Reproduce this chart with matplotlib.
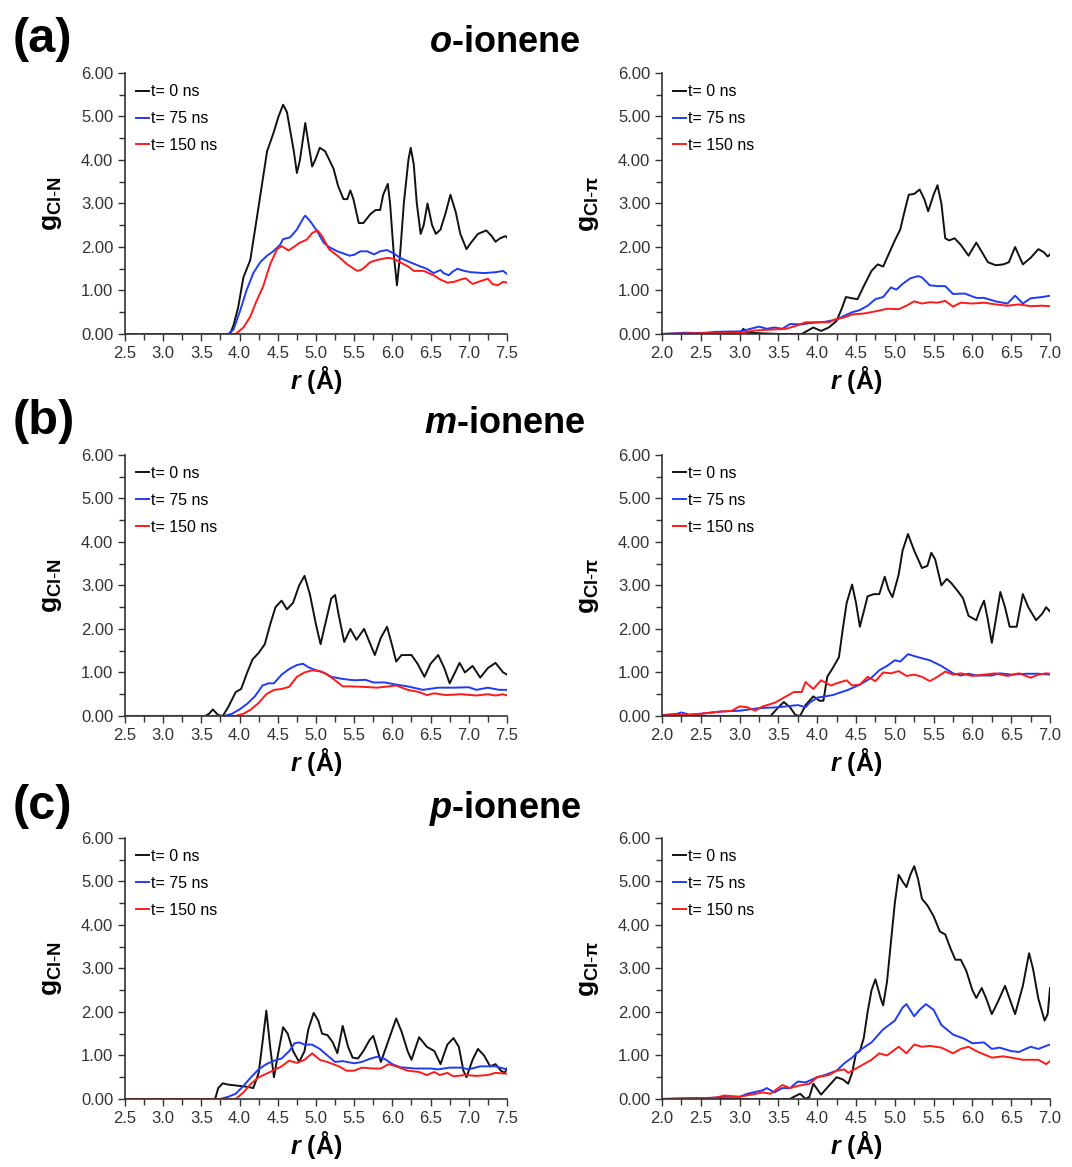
import matplotlib
matplotlib.use('Agg')
import matplotlib.pyplot as plt
from matplotlib.ticker import MultipleLocator, FormatStrFormatter

plt.rcParams.update({
    'font.family': ['Liberation Sans', 'DejaVu Sans'],
    'mathtext.fontset': 'custom',
    'mathtext.rm': 'Liberation Sans',
    'mathtext.it': 'Liberation Sans:italic:bold',
    'mathtext.bf': 'Liberation Sans:bold',
})

LEGEND_LABELS = ['t= 0 ns', 't= 75 ns', 't= 150 ns']
LINE_COLORS = ['#111111', '#1f3cf0', '#ff1a1a']
PANEL_LETTERS = ['(a)', '(b)', '(c)']
PANEL_TITLES = [r'$\mathit{o}$-ionene', r'$\mathit{m}$-ionene', r'$\mathit{p}$-ionene']
YLABEL_N = r'$\mathbf{g}_{\mathbf{Cl}\text{-}\mathbf{N}}$'
YLABEL_PI = r'$\mathbf{g}_{\mathbf{Cl}\text{-}\mathbf{π}}$'

# (r, g) pairs
# o-ionene, Cl-N
oN_t0 = [(2.5, 0), (3.85, 0), (3.88, 0.02), (3.92, 0.2), (3.98, 0.6), (4.05, 1.3), (4.14, 1.7), (4.22, 2.6),
         (4.29, 3.4), (4.36, 4.2), (4.44, 4.6), (4.51, 5.0), (4.57, 5.27), (4.62, 5.1), (4.66, 4.7), (4.71, 4.2),
         (4.75, 3.7), (4.79, 4.0), (4.86, 4.85), (4.9, 4.4), (4.95, 3.85), (4.99, 4.0), (5.05, 4.28), (5.12, 4.2),
         (5.23, 3.8), (5.29, 3.4), (5.36, 3.1), (5.41, 3.1), (5.45, 3.3), (5.49, 3.1), (5.56, 2.55), (5.62, 2.55),
         (5.71, 2.75), (5.78, 2.85), (5.84, 2.85), (5.88, 3.2), (5.94, 3.45), (5.97, 3.0), (6.02, 1.8), (6.06, 1.12),
         (6.1, 1.8), (6.15, 3.0), (6.21, 4.0), (6.24, 4.28), (6.28, 3.9), (6.32, 3.0), (6.37, 2.3), (6.41, 2.5),
         (6.46, 3.0), (6.52, 2.5), (6.57, 2.3), (6.63, 2.4), (6.7, 2.8), (6.76, 3.2), (6.83, 2.8), (6.89, 2.3),
         (6.97, 1.95), (7.03, 2.1), (7.12, 2.3), (7.23, 2.38), (7.3, 2.25), (7.35, 2.12), (7.41, 2.2), (7.48, 2.25),
         (7.5, 2.22)]
oN_t75 = [(2.5, 0), (3.85, 0), (3.92, 0.1), (4.01, 0.55), (4.09, 1.0), (4.18, 1.4), (4.27, 1.65), (4.36, 1.8),
          (4.44, 1.9), (4.53, 2.05), (4.57, 2.18), (4.66, 2.22), (4.75, 2.4), (4.84, 2.68), (4.86, 2.72), (4.93, 2.58),
          (5.02, 2.35), (5.1, 2.1), (5.17, 2.0), (5.28, 1.9), (5.44, 1.8), (5.5, 1.82), (5.58, 1.9), (5.67, 1.9),
          (5.76, 1.83), (5.84, 1.9), (5.93, 1.93), (6.02, 1.85), (6.1, 1.75), (6.23, 1.65), (6.37, 1.55), (6.45, 1.5),
          (6.54, 1.4), (6.63, 1.47), (6.67, 1.4), (6.74, 1.35), (6.78, 1.42), (6.85, 1.5), (6.94, 1.45), (7.03, 1.42),
          (7.2, 1.4), (7.35, 1.42), (7.45, 1.45), (7.5, 1.38)]
oN_t150 = [(2.5, 0), (3.95, 0), (4.05, 0.15), (4.14, 0.4), (4.22, 0.75), (4.31, 1.1), (4.4, 1.6), (4.49, 1.95),
           (4.55, 2.02), (4.64, 1.92), (4.71, 2.0), (4.79, 2.1), (4.88, 2.17), (4.95, 2.32), (5.02, 2.38), (5.08, 2.25),
           (5.17, 1.95), (5.28, 1.8), (5.41, 1.6), (5.54, 1.45), (5.6, 1.48), (5.71, 1.65), (5.8, 1.7), (5.93, 1.75),
           (6.02, 1.73), (6.1, 1.65), (6.21, 1.55), (6.28, 1.45), (6.41, 1.45), (6.54, 1.35), (6.63, 1.25),
           (6.72, 1.18), (6.81, 1.2), (6.89, 1.25), (6.96, 1.28), (7.05, 1.15), (7.16, 1.22), (7.25, 1.27),
           (7.31, 1.15), (7.38, 1.12), (7.45, 1.2), (7.5, 1.18)]

# o-ionene, Cl-pi
oPi_t0 = [(2.0, 0), (3.0, 0.02), (3.05, 0.12), (3.1, 0.03), (3.5, 0), (3.8, 0), (3.85, 0.05), (3.95, 0.15),
          (4.05, 0.07), (4.15, 0.15), (4.25, 0.3), (4.32, 0.6), (4.37, 0.85), (4.45, 0.82), (4.52, 0.8), (4.6, 1.1),
          (4.7, 1.45), (4.78, 1.6), (4.85, 1.55), (4.9, 1.75), (5.0, 2.15), (5.07, 2.4), (5.13, 2.85), (5.18, 3.2),
          (5.25, 3.22), (5.32, 3.32), (5.38, 3.1), (5.43, 2.82), (5.5, 3.2), (5.55, 3.42), (5.6, 3.0), (5.65, 2.2),
          (5.7, 2.15), (5.77, 2.2), (5.85, 2.05), (5.95, 1.8), (6.05, 2.1), (6.1, 1.95), (6.2, 1.65), (6.3, 1.58),
          (6.4, 1.6), (6.47, 1.65), (6.55, 2.0), (6.6, 1.8), (6.65, 1.6), (6.75, 1.75), (6.85, 1.95), (6.92, 1.88),
          (6.97, 1.78), (7.0, 1.83)]
oPi_t75 = [(2.0, 0), (2.3, 0.03), (2.5, 0.02), (2.7, 0.05), (3.0, 0.06), (3.1, 0.1), (3.25, 0.17), (3.35, 0.12),
           (3.45, 0.15), (3.55, 0.12), (3.65, 0.23), (3.8, 0.22), (3.9, 0.25), (4.1, 0.28), (4.25, 0.33), (4.35, 0.42),
           (4.45, 0.5), (4.55, 0.55), (4.65, 0.65), (4.75, 0.8), (4.85, 0.85), (4.95, 1.07), (5.02, 1.02), (5.1, 1.15),
           (5.2, 1.28), (5.3, 1.33), (5.35, 1.3), (5.45, 1.12), (5.55, 1.1), (5.65, 1.1), (5.75, 0.92), (5.9, 0.93),
           (6.05, 0.83), (6.15, 0.83), (6.3, 0.75), (6.45, 0.7), (6.55, 0.88), (6.65, 0.7), (6.75, 0.82), (6.9, 0.85),
           (7.0, 0.88)]
oPi_t150 = [(2.0, 0), (2.5, 0.02), (2.9, 0.02), (3.05, 0.04), (3.2, 0.08), (3.4, 0.1), (3.6, 0.12), (3.75, 0.2),
            (3.85, 0.27), (4.0, 0.27), (4.15, 0.27), (4.25, 0.35), (4.35, 0.38), (4.45, 0.45), (4.6, 0.47),
            (4.75, 0.52), (4.9, 0.58), (5.05, 0.57), (5.15, 0.65), (5.25, 0.75), (5.35, 0.7), (5.45, 0.73),
            (5.55, 0.72), (5.65, 0.76), (5.75, 0.63), (5.85, 0.72), (6.0, 0.7), (6.15, 0.72), (6.3, 0.68),
            (6.45, 0.65), (6.6, 0.68), (6.75, 0.64), (6.9, 0.65), (7.0, 0.64)]

# m-ionene, Cl-N
mN_t0 = [(2.5, 0), (3.55, 0), (3.6, 0.05), (3.65, 0.15), (3.72, 0.02), (3.78, 0), (3.85, 0.2), (3.95, 0.55),
         (4.02, 0.62), (4.1, 1.0), (4.17, 1.3), (4.25, 1.45), (4.33, 1.65), (4.4, 2.1), (4.47, 2.5), (4.55, 2.65),
         (4.62, 2.45), (4.7, 2.6), (4.78, 3.0), (4.85, 3.22), (4.92, 2.8), (5.0, 2.1), (5.06, 1.65), (5.12, 2.1),
         (5.2, 2.7), (5.25, 2.78), (5.3, 2.3), (5.37, 1.7), (5.45, 2.0), (5.53, 1.75), (5.63, 2.0), (5.7, 1.7),
         (5.77, 1.4), (5.85, 1.8), (5.93, 2.05), (6.0, 1.6), (6.05, 1.25), (6.12, 1.4), (6.25, 1.4), (6.33, 1.2),
         (6.42, 0.9), (6.5, 1.2), (6.6, 1.4), (6.68, 1.1), (6.75, 0.75), (6.82, 1.0), (6.88, 1.22), (6.95, 1.0),
         (7.05, 1.15), (7.15, 0.88), (7.25, 1.1), (7.35, 1.22), (7.45, 1.0), (7.5, 0.95)]
mN_t75 = [(2.5, 0), (3.8, 0), (3.9, 0.05), (4.0, 0.15), (4.1, 0.28), (4.2, 0.45), (4.3, 0.7), (4.38, 0.75),
          (4.45, 0.75), (4.55, 0.95), (4.65, 1.08), (4.75, 1.17), (4.83, 1.2), (4.9, 1.12), (5.0, 1.05), (5.1, 1.0),
          (5.2, 0.9), (5.35, 0.85), (5.5, 0.82), (5.65, 0.83), (5.75, 0.77), (5.9, 0.77), (6.05, 0.72), (6.2, 0.68),
          (6.4, 0.6), (6.6, 0.65), (6.8, 0.65), (7.0, 0.66), (7.1, 0.6), (7.25, 0.65), (7.4, 0.6), (7.5, 0.6)]
mN_t150 = [(2.5, 0), (3.95, 0), (4.05, 0.05), (4.15, 0.15), (4.25, 0.3), (4.35, 0.5), (4.45, 0.6), (4.55, 0.62),
           (4.65, 0.67), (4.75, 0.9), (4.85, 1.0), (4.95, 1.05), (5.05, 1.03), (5.15, 0.95), (5.25, 0.82),
           (5.35, 0.68), (5.45, 0.68), (5.6, 0.67), (5.8, 0.65), (5.95, 0.68), (6.05, 0.7), (6.2, 0.6), (6.35, 0.55),
           (6.45, 0.48), (6.55, 0.52), (6.7, 0.48), (6.9, 0.5), (7.1, 0.47), (7.25, 0.5), (7.35, 0.47), (7.45, 0.5),
           (7.5, 0.47)]

# m-ionene, Cl-pi
mPi_t0 = [(2.0, 0), (3.4, 0), (3.5, 0.2), (3.57, 0.32), (3.65, 0.2), (3.72, 0.02), (3.78, 0), (3.85, 0.25),
          (3.95, 0.45), (4.03, 0.35), (4.08, 0.35), (4.13, 0.9), (4.2, 1.1), (4.28, 1.35), (4.33, 2.0), (4.38, 2.6),
          (4.45, 3.02), (4.5, 2.6), (4.55, 2.05), (4.6, 2.4), (4.65, 2.75), (4.73, 2.8), (4.8, 2.8), (4.87, 3.2),
          (4.92, 2.9), (4.97, 2.73), (5.05, 3.25), (5.1, 3.8), (5.17, 4.18), (5.25, 3.8), (5.35, 3.4), (5.42, 3.45),
          (5.47, 3.75), (5.52, 3.6), (5.6, 3.0), (5.67, 3.15), (5.73, 3.05), (5.82, 2.85), (5.88, 2.7), (5.95, 2.3),
          (6.05, 2.2), (6.1, 2.45), (6.15, 2.65), (6.2, 2.2), (6.25, 1.68), (6.3, 2.2), (6.36, 2.85), (6.42, 2.5),
          (6.48, 2.05), (6.57, 2.05), (6.65, 2.8), (6.72, 2.5), (6.82, 2.2), (6.9, 2.35), (6.95, 2.5), (7.0, 2.4)]
mPi_t75 = [(2.0, 0.02), (2.2, 0.05), (2.25, 0.08), (2.35, 0.03), (2.5, 0.05), (2.75, 0.1), (3.0, 0.12),
           (3.25, 0.18), (3.5, 0.2), (3.75, 0.25), (3.85, 0.2), (3.9, 0.3), (4.0, 0.42), (4.2, 0.48), (4.4, 0.6),
           (4.55, 0.72), (4.7, 0.88), (4.8, 1.05), (4.9, 1.15), (5.0, 1.28), (5.07, 1.25), (5.17, 1.42), (5.3, 1.35),
           (5.45, 1.28), (5.6, 1.15), (5.75, 0.98), (5.85, 0.93), (5.95, 0.97), (6.05, 0.93), (6.25, 0.93),
           (6.35, 0.98), (6.5, 0.95), (6.7, 0.97), (6.85, 0.97), (7.0, 0.95)]
mPi_t150 = [(2.0, 0), (2.1, 0.03), (2.3, 0.02), (2.5, 0.05), (2.75, 0.1), (2.9, 0.12), (3.0, 0.22), (3.1, 0.2),
            (3.2, 0.12), (3.3, 0.22), (3.45, 0.3), (3.6, 0.45), (3.7, 0.55), (3.8, 0.55), (3.85, 0.78), (3.95, 0.62),
            (4.05, 0.82), (4.12, 0.75), (4.18, 0.7), (4.25, 0.75), (4.38, 0.82), (4.45, 0.7), (4.55, 0.72),
            (4.65, 0.9), (4.75, 0.8), (4.85, 1.0), (4.95, 0.98), (5.05, 1.03), (5.15, 0.92), (5.25, 0.95),
            (5.35, 0.9), (5.45, 0.8), (5.55, 0.9), (5.65, 1.02), (5.75, 0.95), (5.85, 0.98), (6.0, 0.92),
            (6.15, 0.95), (6.3, 0.98), (6.45, 0.92), (6.6, 0.98), (6.75, 0.88), (6.85, 0.95), (6.95, 0.98),
            (7.0, 0.97)]

# p-ionene, Cl-N
pN_t0 = [(2.5, 0), (3.68, 0), (3.72, 0.25), (3.78, 0.36), (3.85, 0.33), (4.0, 0.3), (4.1, 0.28), (4.18, 0.25),
         (4.25, 0.6), (4.3, 1.3), (4.35, 2.03), (4.4, 1.2), (4.45, 0.5), (4.5, 1.0), (4.57, 1.65), (4.63, 1.5),
         (4.7, 1.1), (4.78, 0.85), (4.85, 1.1), (4.9, 1.6), (4.97, 1.98), (5.03, 1.8), (5.08, 1.5), (5.15, 1.47),
         (5.22, 1.3), (5.28, 1.05), (5.35, 1.68), (5.42, 1.2), (5.48, 0.95), (5.55, 0.93), (5.62, 1.1), (5.7, 1.35),
         (5.75, 1.45), (5.8, 1.15), (5.85, 0.85), (5.93, 1.25), (6.05, 1.85), (6.12, 1.55), (6.2, 1.1), (6.25, 0.9),
         (6.35, 1.42), (6.45, 1.2), (6.55, 1.1), (6.63, 0.8), (6.72, 1.25), (6.8, 1.4), (6.87, 1.2), (6.93, 0.65),
         (6.97, 0.5), (7.05, 0.9), (7.12, 1.15), (7.2, 1.0), (7.28, 0.75), (7.35, 0.8), (7.42, 0.65), (7.47, 0.6),
         (7.5, 0.7)]
pN_t75 = [(2.5, 0), (3.75, 0), (3.85, 0.05), (3.95, 0.12), (4.05, 0.3), (4.15, 0.5), (4.25, 0.68), (4.35, 0.8),
          (4.45, 0.88), (4.55, 0.93), (4.65, 1.1), (4.72, 1.28), (4.78, 1.3), (4.85, 1.25), (4.95, 1.25),
          (5.05, 1.15), (5.15, 1.0), (5.25, 0.85), (5.35, 0.87), (5.5, 0.82), (5.6, 0.85), (5.7, 0.92), (5.8, 0.97),
          (5.9, 0.92), (6.0, 0.8), (6.1, 0.73), (6.3, 0.7), (6.5, 0.7), (6.6, 0.68), (6.75, 0.72), (6.9, 0.72),
          (7.0, 0.68), (7.15, 0.75), (7.35, 0.75), (7.5, 0.68)]
pN_t150 = [(2.5, 0), (3.95, 0), (4.05, 0.15), (4.15, 0.35), (4.25, 0.5), (4.4, 0.62), (4.55, 0.75), (4.65, 0.88),
           (4.75, 0.83), (4.85, 0.9), (4.95, 1.05), (5.05, 0.9), (5.15, 0.85), (5.3, 0.75), (5.4, 0.65), (5.5, 0.65),
           (5.6, 0.72), (5.75, 0.7), (5.85, 0.7), (5.95, 0.8), (6.05, 0.75), (6.2, 0.65), (6.35, 0.62), (6.45, 0.55),
           (6.55, 0.62), (6.62, 0.55), (6.72, 0.6), (6.8, 0.52), (6.95, 0.55), (7.1, 0.53), (7.25, 0.55),
           (7.35, 0.6), (7.5, 0.58)]

# p-ionene, Cl-pi
pPi_t0 = [(2.0, 0), (3.65, 0), (3.7, 0.05), (3.78, 0.12), (3.85, 0.0), (3.9, 0.05), (3.95, 0.35), (4.05, 0.1),
          (4.15, 0.3), (4.25, 0.5), (4.33, 0.45), (4.4, 0.35), (4.45, 0.6), (4.5, 1.05), (4.55, 1.1), (4.6, 1.4),
          (4.65, 2.0), (4.7, 2.5), (4.75, 2.75), (4.82, 2.3), (4.85, 2.15), (4.9, 2.7), (4.95, 3.6), (5.0, 4.5),
          (5.05, 5.15), (5.1, 5.0), (5.15, 4.87), (5.2, 5.15), (5.25, 5.35), (5.3, 5.05), (5.35, 4.6), (5.42, 4.45),
          (5.5, 4.2), (5.58, 3.85), (5.65, 3.78), (5.72, 3.45), (5.78, 3.2), (5.85, 3.2), (5.92, 2.95), (6.0, 2.5),
          (6.05, 2.32), (6.12, 2.55), (6.18, 2.3), (6.25, 1.95), (6.32, 2.2), (6.42, 2.6), (6.48, 2.3), (6.55, 1.95),
          (6.65, 2.6), (6.73, 3.35), (6.78, 3.0), (6.85, 2.3), (6.93, 1.8), (6.97, 1.95), (7.0, 2.55)]
pPi_t75 = [(2.0, 0), (2.4, 0.02), (2.6, 0.02), (2.8, 0.05), (3.0, 0.05), (3.1, 0.12), (3.3, 0.2), (3.35, 0.25),
           (3.45, 0.15), (3.55, 0.25), (3.65, 0.25), (3.75, 0.4), (3.85, 0.38), (4.0, 0.5), (4.1, 0.55),
           (4.25, 0.65), (4.35, 0.82), (4.45, 0.95), (4.55, 1.12), (4.7, 1.3), (4.85, 1.6), (5.0, 1.8), (5.1, 2.1),
           (5.15, 2.18), (5.25, 1.9), (5.32, 2.05), (5.4, 2.18), (5.5, 2.05), (5.6, 1.7), (5.75, 1.48), (5.9, 1.38),
           (6.0, 1.28), (6.15, 1.3), (6.25, 1.15), (6.35, 1.18), (6.5, 1.1), (6.6, 1.08), (6.75, 1.2), (6.85, 1.15),
           (6.95, 1.22), (7.0, 1.25)]
pPi_t150 = [(2.0, 0), (2.5, 0.02), (2.7, 0.03), (2.8, 0.08), (3.0, 0.05), (3.15, 0.1), (3.3, 0.15), (3.4, 0.12),
            (3.55, 0.32), (3.65, 0.25), (3.75, 0.3), (3.9, 0.35), (4.0, 0.5), (4.15, 0.55), (4.25, 0.65),
            (4.35, 0.68), (4.4, 0.6), (4.55, 0.75), (4.7, 0.9), (4.8, 1.05), (4.9, 1.0), (5.05, 1.2), (5.15, 1.05),
            (5.25, 1.25), (5.35, 1.2), (5.45, 1.22), (5.6, 1.18), (5.75, 1.05), (5.85, 1.15), (5.95, 1.2),
            (6.05, 1.1), (6.25, 0.95), (6.4, 0.98), (6.5, 0.95), (6.65, 0.9), (6.85, 0.9), (6.95, 0.8), (7.0, 0.87)]

ROWS = [
    ([oN_t0, oN_t75, oN_t150], [oPi_t0, oPi_t75, oPi_t150]),
    ([mN_t0, mN_t75, mN_t150], [mPi_t0, mPi_t75, mPi_t150]),
    ([pN_t0, pN_t75, pN_t150], [pPi_t0, pPi_t75, pPi_t150]),
]


def drawPanel(ax, series, xmin, xmax, ylabel):
    for pairs, color, label in zip(series, LINE_COLORS, LEGEND_LABELS):
        r, g = zip(*pairs)
        ax.plot(r, g, color=color, lw=1.4, label=label)

    ax.set_xlim(xmin, xmax)
    ax.set_ylim(0, 6)
    ax.xaxis.set_major_locator(MultipleLocator(0.5))
    ax.xaxis.set_minor_locator(MultipleLocator(0.25))
    ax.yaxis.set_major_locator(MultipleLocator(1))
    ax.yaxis.set_minor_locator(MultipleLocator(0.5))
    ax.xaxis.set_major_formatter(FormatStrFormatter('%.1f'))
    ax.yaxis.set_major_formatter(FormatStrFormatter('%.2f'))

    for side in ('top', 'right'):
        ax.spines[side].set_visible(False)
    for side in ('left', 'bottom'):
        ax.spines[side].set_color('#333333')
        ax.spines[side].set_linewidth(1.2)
    ax.tick_params(which='both', direction='out', color='#333333', labelcolor='#333333', labelsize=12, width=1)
    ax.tick_params(which='major', length=5)
    ax.tick_params(which='minor', length=4)

    ax.set_xlabel(r'$\mathit{r}$ (Å)', fontsize=18, fontweight='bold', labelpad=2)
    ax.set_ylabel(ylabel, fontsize=19, labelpad=12)

    ax.legend(loc='upper left', frameon=False, fontsize=11.5, handlelength=0.8, handletextpad=0.1,
              labelspacing=0.75, borderaxespad=0.3)


fig = plt.figure(figsize=(10.72, 11.67), dpi=100)

bottoms = [0.7138, 0.3865, 0.0583]
letter_y = [0.966, 0.639, 0.309]
for i, (n_series, pi_series) in enumerate(ROWS):
    ax_left = fig.add_axes([0.1166, bottoms[i], 0.3563, 0.2237])
    ax_right = fig.add_axes([0.6175, bottoms[i], 0.362, 0.2237])
    drawPanel(ax_left, n_series, 2.5, 7.5, YLABEL_N)
    drawPanel(ax_right, pi_series, 2.0, 7.0, YLABEL_PI)

    fig.text(0.012, letter_y[i], PANEL_LETTERS[i], fontsize=35, fontweight='bold', va='center', ha='left')
    fig.text(0.471, letter_y[i] - 0.002, PANEL_TITLES[i], fontsize=26, fontweight='bold', va='center', ha='center')

fig.savefig('out.png', dpi=100)
